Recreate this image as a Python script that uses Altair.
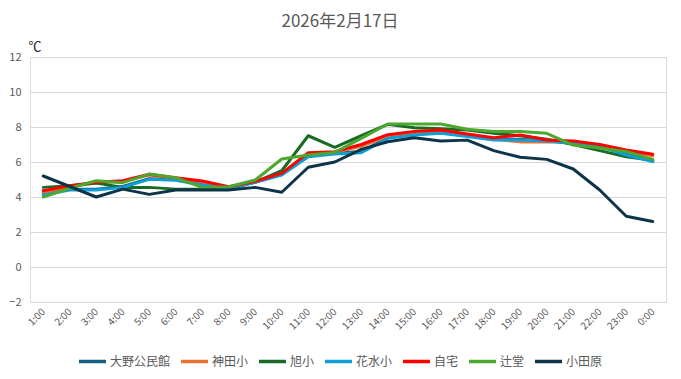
import altair as alt
import pandas as pd

hours = ["1:00", "2:00", "3:00", "4:00", "5:00", "6:00", "7:00", "8:00", "9:00", "10:00",
         "11:00", "12:00", "13:00", "14:00", "15:00", "16:00", "17:00", "18:00", "19:00",
         "20:00", "21:00", "22:00", "23:00", "0:00"]

series_names = ["大野公民館", "神田小", "旭小", "花水小", "自宅", "辻堂", "小田原"]
series_colors = ["#156082", "#E97132", "#196B24", "#0F9ED5", "#FF0000", "#4EA72E", "#0E3449"]

oono = [4.2, 4.45, 4.45, 4.6, 5.05, 5.0, 4.7, 4.5, 4.85, 5.3, 6.35, 6.5,
        6.6, 7.4, 7.7, 7.8, 7.5, 7.3, 7.3, 7.2, 7.1, 6.9, 6.45, 6.05]
kanda = [4.25, 4.6, 4.8, 4.9, 5.25, 5.05, 4.85, 4.55, 4.85, 5.3, 6.45, 6.55,
         6.9, 7.5, 7.7, 7.8, 7.55, 7.3, 7.15, 7.15, 7.15, 6.95, 6.65, 6.35]
asahi = [4.55, 4.65, 4.8, 4.55, 4.55, 4.45, 4.45, 4.45, 4.85, 5.5, 7.5, 6.84,
         7.5, 8.15, 7.96, 7.9, 7.83, 7.64, 7.5, 7.3, 7.0, 6.65, 6.3, 6.1]
hanamizu = [4.11, 4.4, 4.4, 4.55, 5.01, 4.95, 4.69, 4.5, 4.84, 5.26, 6.3, 6.46,
            6.53, 7.35, 7.54, 7.64, 7.45, 7.26, 7.26, 7.2, 7.07, 6.88, 6.4, 6.02]
jitaku = [4.36, 4.65, 4.84, 4.93, 5.3, 5.1, 4.91, 4.59, 4.9, 5.35, 6.53, 6.59,
          7.0, 7.56, 7.75, 7.83, 7.6, 7.39, 7.54, 7.26, 7.2, 7.0, 6.69, 6.44]
tsujido = [4.0, 4.5, 4.93, 4.82, 5.31, 5.1, 4.55, 4.59, 4.97, 6.17, 6.4, 6.55,
           7.35, 8.17, 8.17, 8.17, 7.87, 7.74, 7.74, 7.64, 6.97, 6.8, 6.6, 6.15]
odawara = [5.2, 4.6, 4.0, 4.45, 4.15, 4.4, 4.4, 4.4, 4.55, 4.27, 5.7, 6.0,
           6.72, 7.16, 7.39, 7.2, 7.25, 6.65, 6.27, 6.15, 5.6, 4.4, 2.9, 2.6]

y_ticks = [-2, 0, 2, 4, 6, 8, 10, 12]
title_text = "2026年2月17日"
unit_text = "℃"

all_values = [oono, kanda, asahi, hanamizu, jitaku, tsujido, odawara]
rows = []
for name, vals in zip(series_names, all_values):
    for h, v in zip(hours, vals):
        rows.append({"hour": h, "temp": v, "site": name})
df = pd.DataFrame(rows)

FONT = "Noto Sans CJK JP"
GRAY = "#595959"

lines = alt.Chart(df).mark_line(strokeWidth=3, strokeJoin="round", strokeCap="round").encode(
    x=alt.X("hour:N", sort=hours, scale=alt.Scale(type="point", padding=0.5),
            axis=alt.Axis(title=None, labelAngle=-45, labelAlign="right", labelBaseline="middle",
                          labelPadding=8, labelFontSize=10, labelColor=GRAY, labelFont=FONT,
                          ticks=False, domain=False, grid=False)),
    y=alt.Y("temp:Q", scale=alt.Scale(domain=[-2, 12], nice=False, zero=False),
            axis=alt.Axis(title=None, values=y_ticks, labelFontSize=11, labelColor=GRAY,
                          labelFont=FONT, labelPadding=9, ticks=False, domain=False,
                          grid=True, gridColor="#D9D9D9", gridWidth=1)),
    color=alt.Color("site:N", sort=series_names,
                    scale=alt.Scale(domain=series_names, range=series_colors),
                    legend=alt.Legend(title=None, orient="none", direction="horizontal",
                                      legendX=47, legendY=289, symbolType="stroke",
                                      symbolSize=729, symbolStrokeWidth=3.5,
                                      labelFontSize=12, labelColor=GRAY, labelFont=FONT,
                                      labelOffset=2, columnPadding=3, gridAlign="none",
                                      padding=0)),
    detail="site:N",
)

title_layer = alt.Chart(pd.DataFrame({"t": [title_text]})).mark_text(
    fontSize=17, color=GRAY, font=FONT, align="center", baseline="middle"
).encode(text="t:N", x=alt.value(310), y=alt.value(-35))

unit_layer = alt.Chart(pd.DataFrame({"t": [unit_text]})).mark_text(
    fontSize=13, color="#222222", font=FONT, align="center", baseline="middle"
).encode(text="t:N", x=alt.value(5), y=alt.value(-10))

chart = alt.layer(lines, title_layer, unit_layer).properties(
    width=636, height=245,
    autosize=alt.AutoSizeParams(type="none"),
    padding={"left": 22, "top": 49, "right": 7, "bottom": 70},
).configure_view(stroke=None).configure(background="white")

chart.save("out.html", embed_options={"renderer": "svg", "actions": False})
